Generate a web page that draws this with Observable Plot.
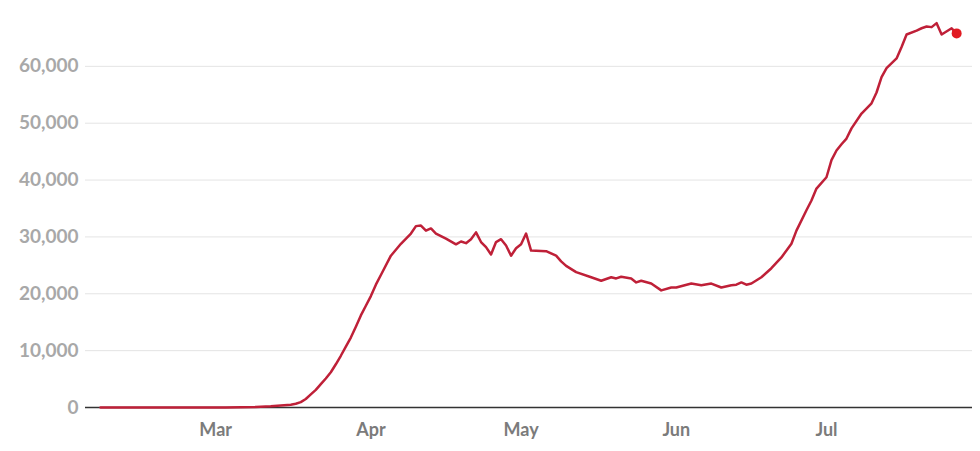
<!DOCTYPE html>
<html><head><meta charset="utf-8">
<script src="https://cdn.jsdelivr.net/npm/d3@7"></script>
<script src="https://cdn.jsdelivr.net/npm/@observablehq/plot@0.6"></script>
<style>body{margin:0;background:#fff}</style>
</head><body><div id="chart"></div>
<script>
const dates = [
"2020-02-07","2020-02-14","2020-02-21","2020-02-28","2020-03-03","2020-03-06","2020-03-09","2020-03-12","2020-03-14","2020-03-16",
"2020-03-17","2020-03-18","2020-03-19","2020-03-20","2020-03-21","2020-03-22","2020-03-23","2020-03-24","2020-03-25","2020-03-26",
"2020-03-27","2020-03-28","2020-03-29","2020-03-30","2020-03-31","2020-04-01","2020-04-02","2020-04-03","2020-04-05","2020-04-07",
"2020-04-09","2020-04-10","2020-04-11","2020-04-12",
"2020-04-13","2020-04-14","2020-04-16","2020-04-18","2020-04-19","2020-04-20","2020-04-21","2020-04-22","2020-04-23","2020-04-24",
"2020-04-25","2020-04-26","2020-04-27","2020-04-28","2020-04-29","2020-04-30","2020-05-01","2020-05-02","2020-05-03","2020-05-06",
"2020-05-08","2020-05-09","2020-05-10","2020-05-12","2020-05-15","2020-05-17","2020-05-19","2020-05-20","2020-05-21","2020-05-23",
"2020-05-24","2020-05-25","2020-05-27","2020-05-29","2020-05-31","2020-06-01","2020-06-04","2020-06-06","2020-06-08","2020-06-10",
"2020-06-12","2020-06-13","2020-06-14","2020-06-15","2020-06-16","2020-06-18","2020-06-20","2020-06-22","2020-06-24","2020-06-25",
"2020-06-27","2020-06-28","2020-06-29","2020-07-01","2020-07-02","2020-07-03","2020-07-04","2020-07-05","2020-07-06","2020-07-08",
"2020-07-10","2020-07-11","2020-07-12","2020-07-13","2020-07-15","2020-07-16","2020-07-17","2020-07-19","2020-07-20","2020-07-21",
"2020-07-22","2020-07-23","2020-07-24","2020-07-26","2020-07-27"
];
const values = [
0,0,0,5,20,50,100,220,350,500,
650,950,1500,2300,3100,4100,5100,6200,7600,9100,
10700,12300,14200,16200,17900,19600,21600,23300,26700,28800,
30600,31900,32000,31100,
31500,30600,29700,28700,29200,28900,29600,30800,29100,28200,
26900,29100,29600,28500,26700,28000,28700,30600,27600,27500,
26700,25700,24900,23800,22900,22300,22900,22700,23000,22700,
22000,22300,21800,20600,21100,21100,21800,21500,21800,21100,
21500,21600,22000,21600,21800,22900,24500,26400,28800,31100,
34700,36400,38500,40500,43500,45200,46300,47300,49100,51700,
53500,55400,58100,59700,61400,63400,65600,66300,66700,67000,
66900,67600,65600,66700,65800
];
const yTicks = [0, 10000, 20000, 30000, 40000, 50000, 60000];
const monthTicks = ["2020-03-01", "2020-04-01", "2020-05-01", "2020-06-01", "2020-07-01"];

const data = dates.map((d, i) => ({date: new Date(d), value: values[i]}));
const last = data[data.length - 1];

const chart = Plot.plot({
  width: 980,
  height: 451,
  marginLeft: 85,
  marginRight: 8,
  marginTop: 9,
  marginBottom: 44,
  style: {fontFamily: "Lato, sans-serif", background: "#fff"},
  x: {type: "utc", domain: [new Date("2020-02-04"), new Date("2020-07-30T04:00Z")]},
  y: {domain: [0, 70000]},
  marks: [
    Plot.gridY(yTicks, {stroke: "#e4e4e4", strokeOpacity: 1, strokeWidth: 1}),
    Plot.axisY(yTicks, {tickSize: 0, tickPadding: 7, tickFormat: d3.format(","), fontSize: 19, fontWeight: 700, color: "#a8a8a8", label: null}),
    Plot.axisX(monthTicks.map(d => new Date(d)), {tickSize: 0, tickPadding: 16, tickFormat: d3.utcFormat("%b"), fontSize: 18, fontWeight: 700, color: "#7b7b7b", label: null}),
    Plot.ruleY([0], {stroke: "#333", strokeWidth: 1.5}),
    Plot.line(data, {x: "date", y: "value", stroke: "#bf2038", strokeWidth: 2.5}),
    Plot.dot([last], {x: "date", y: "value", r: 5, fill: "#e11b22", stroke: "none"})
  ]
});
document.getElementById("chart").append(chart);
</script>
</body></html>
